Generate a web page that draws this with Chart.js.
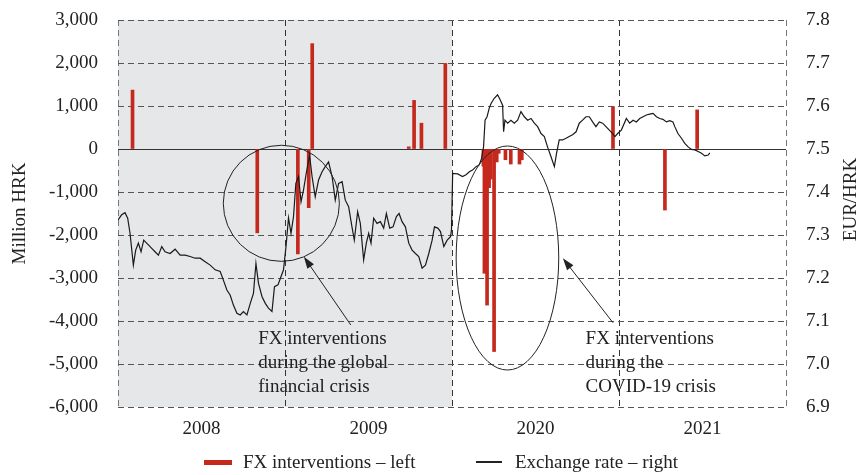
<!DOCTYPE html>
<html>
<head>
<meta charset="utf-8">
<script src="https://cdn.jsdelivr.net/npm/chart.js@4"></script>
<style>
  body { margin: 0; background: #fff; }
  #wrap { position: relative; width: 864px; height: 475px; }
  .legend { position: absolute; top: 451px; font: 19px "Liberation Serif", "Times New Roman", serif; color: #222; display: flex; align-items: center; white-space: nowrap; line-height: 22px; }
  .sw { display: inline-block; margin-right: 11px; }
</style>
</head>
<body>
<div id="wrap">
  <canvas id="chart" width="864" height="475"></canvas>
  <div class="legend" style="left:204px"><span class="sw" style="width:28px;height:5px;background:#c5281c"></span>FX interventions – left</div>
  <div class="legend" style="left:476px"><span class="sw" style="width:26px;height:1.5px;background:#222;margin-right:13px"></span>Exchange rate – right</div>
</div>
<script>
/* broken time axis: only these four years are shown, side by side */
const years = ['2008', '2009', '2020', '2021'];

// FX interventions, million HRK (decimal year, value)
const fxDates = [2008.087, 2008.834, 2009.077, 2009.142, 2009.163, 2009.741, 2009.773, 2009.817, 2009.960,
  2020.188, 2020.194, 2020.210, 2020.222, 2020.232, 2020.252, 2020.268, 2020.280, 2020.320, 2020.352, 2020.404, 2020.418, 2020.964,
  2021.275, 2021.468];
const fxValues = [1370, -1950, -2440, -1365, 2450, 50, 1130, 600, 1990,
  -400, -2890, -3630, -900, -700, -4710, -300, -100, -250, -350, -350, -250, 985,
  -1420, 910];

// EUR/HRK exchange rate
const rateDates = [
  2008.000, 2008.022, 2008.042, 2008.058, 2008.072, 2008.092, 2008.106, 2008.122, 2008.138, 2008.154,
  2008.182, 2008.202, 2008.222, 2008.242, 2008.262, 2008.282, 2008.312, 2008.342, 2008.372, 2008.402,
  2008.432, 2008.462, 2008.492, 2008.522, 2008.552, 2008.582, 2008.612, 2008.631, 2008.652, 2008.672,
  2008.691, 2008.712, 2008.732, 2008.751, 2008.772, 2008.792, 2008.811, 2008.826, 2008.841, 2008.862,
  2008.882, 2008.901, 2008.922, 2008.937, 2008.958, 2008.972, 2008.991,
  2009.006, 2009.021, 2009.036, 2009.051, 2009.065, 2009.081, 2009.096, 2009.111, 2009.127, 2009.147,
  2009.162, 2009.181, 2009.201, 2009.222, 2009.241, 2009.261, 2009.282, 2009.301, 2009.321, 2009.342,
  2009.361, 2009.381, 2009.401, 2009.415, 2009.435, 2009.451, 2009.471, 2009.487, 2009.501, 2009.515,
  2009.531, 2009.551, 2009.571, 2009.591, 2009.607, 2009.627, 2009.647, 2009.667, 2009.683, 2009.701,
  2009.721, 2009.741, 2009.761, 2009.781, 2009.801, 2009.821, 2009.841, 2009.861, 2009.881, 2009.895,
  2009.915, 2009.931, 2009.951, 2009.971, 2009.991, 2009.997,
  2020.004, 2020.034, 2020.063, 2020.084, 2020.104, 2020.123, 2020.144, 2020.163, 2020.177, 2020.189,
  2020.198, 2020.210, 2020.223, 2020.234, 2020.253, 2020.273, 2020.289, 2020.303, 2020.309, 2020.317,
  2020.333, 2020.353, 2020.373, 2020.393, 2020.413, 2020.433, 2020.453, 2020.473, 2020.493, 2020.513,
  2020.533, 2020.553, 2020.572, 2020.593, 2020.613, 2020.626, 2020.642, 2020.662, 2020.683, 2020.702,
  2020.722, 2020.743, 2020.762, 2020.782, 2020.802, 2020.822, 2020.842, 2020.862, 2020.882, 2020.902,
  2020.922, 2020.942, 2020.962, 2020.976, 2020.992,
  2021.014, 2021.044, 2021.064, 2021.084, 2021.104, 2021.124, 2021.144, 2021.164, 2021.184, 2021.204,
  2021.224, 2021.244, 2021.263, 2021.284, 2021.304, 2021.323, 2021.334, 2021.353, 2021.374, 2021.394,
  2021.414, 2021.434, 2021.454, 2021.474, 2021.494, 2021.514, 2021.534, 2021.544
];
const rateValues = [
  7.335, 7.347, 7.352, 7.339, 7.304, 7.230, 7.265, 7.281, 7.261, 7.288,
  7.277, 7.269, 7.261, 7.253, 7.273, 7.261, 7.257, 7.267, 7.253, 7.253,
  7.250, 7.246, 7.246, 7.238, 7.230, 7.219, 7.215, 7.195, 7.172, 7.160,
  7.137, 7.118, 7.114, 7.122, 7.114, 7.141, 7.164, 7.234, 7.188, 7.157,
  7.141, 7.130, 7.122, 7.180, 7.184, 7.199, 7.219,
  7.273, 7.340, 7.304, 7.343, 7.420, 7.436, 7.377, 7.405, 7.443, 7.486,
  7.436, 7.389, 7.428, 7.447, 7.459, 7.470, 7.436, 7.381, 7.420, 7.424,
  7.381, 7.366, 7.319, 7.288, 7.354, 7.327, 7.242, 7.281, 7.304, 7.281,
  7.339, 7.327, 7.331, 7.316, 7.350, 7.316, 7.319, 7.343, 7.350, 7.331,
  7.319, 7.281, 7.265, 7.257, 7.250, 7.223, 7.230, 7.257, 7.288, 7.319,
  7.316, 7.308, 7.273, 7.288, 7.296, 7.312,
  7.443, 7.442, 7.436, 7.440, 7.447, 7.451, 7.459, 7.463, 7.478, 7.505,
  7.567, 7.575, 7.595, 7.606, 7.618, 7.626, 7.614, 7.602, 7.540, 7.567,
  7.560, 7.567, 7.560, 7.567, 7.587, 7.575, 7.567, 7.571, 7.560, 7.552,
  7.536, 7.529, 7.505, 7.482, 7.459, 7.490, 7.521, 7.521, 7.525, 7.529,
  7.533, 7.540, 7.560, 7.567, 7.575, 7.575, 7.563, 7.552, 7.563, 7.560,
  7.552, 7.544, 7.536, 7.529, 7.536,
  7.544, 7.571, 7.560, 7.567, 7.563, 7.571, 7.575, 7.579, 7.581, 7.583,
  7.575, 7.571, 7.569, 7.563, 7.566, 7.563, 7.552, 7.536, 7.525, 7.513,
  7.505, 7.499, 7.498, 7.494, 7.490, 7.484, 7.486, 7.491
];

// decimal year -> position on the broken axis (0..4)
function toPos(d) {
  const yr = Math.floor(d);
  return years.indexOf(String(yr)) + (d - yr);
}

// callouts, in axis units (x: axis position, y: million HRK)
const rings = [
  { x: 0.978, y: -1263, rx: 1350, ry: 1350 },
  { x: 2.332, y: -2535, rx: 1193, ry: 2605 }
];
const arrows = [
  { from: [1.394, -4093], to: [1.113, -2505] },
  { from: [2.964, -4040], to: [2.664, -2542] }
];
const notes = [
  { x: 0.840, y: -4420, lines: ['FX interventions', 'during the global', 'financial crisis'] },
  { x: 2.800, y: -4420, lines: ['FX interventions', 'during the', 'COVID-19 crisis'] }
];

const serif = '"Liberation Serif", "Times New Roman", serif';
Chart.defaults.font.family = serif;
Chart.defaults.font.size = 19;
Chart.defaults.color = '#222';

const extras = {
  id: 'extras',
  beforeDraw(chart) {
    const { ctx, chartArea: a, scales: { x } } = chart;
    const x0 = x.getPixelForValue(0), x1 = x.getPixelForValue(2);
    ctx.save();
    ctx.fillStyle = '#e6e7e9';
    ctx.fillRect(x0, a.top, x1 - x0, a.bottom - a.top);
    ctx.restore();
  },
  beforeDatasetsDraw(chart) {
    const { ctx, chartArea: a, scales: { y } } = chart;
    const y0 = Math.round(y.getPixelForValue(0)) + 0.5;
    ctx.save();
    ctx.strokeStyle = '#333';
    ctx.lineWidth = 1.2;
    ctx.beginPath();
    ctx.moveTo(a.left, y0);
    ctx.lineTo(a.right, y0);
    ctx.stroke();
    ctx.restore();
  },
  afterDatasetsDraw(chart) {
    const { ctx, scales: { x, y } } = chart;
    const unit = y.getPixelForValue(0) - y.getPixelForValue(1);
    ctx.save();
    ctx.strokeStyle = '#222';
    ctx.fillStyle = '#222';
    ctx.lineWidth = 1;
    rings.forEach(r => {
      ctx.beginPath();
      ctx.ellipse(x.getPixelForValue(r.x), y.getPixelForValue(r.y), r.rx * unit, r.ry * unit, 0, 0, Math.PI * 2);
      ctx.stroke();
    });
    arrows.forEach(ar => {
      const fx = x.getPixelForValue(ar.from[0]), fy = y.getPixelForValue(ar.from[1]);
      const tx = x.getPixelForValue(ar.to[0]), ty = y.getPixelForValue(ar.to[1]);
      const ang = Math.atan2(ty - fy, tx - fx);
      ctx.beginPath();
      ctx.moveTo(fx, fy);
      ctx.lineTo(tx - 8 * Math.cos(ang), ty - 8 * Math.sin(ang));
      ctx.stroke();
      ctx.beginPath();
      ctx.moveTo(tx, ty);
      ctx.lineTo(tx - 12 * Math.cos(ang) + 4 * Math.sin(ang), ty - 12 * Math.sin(ang) - 4 * Math.cos(ang));
      ctx.lineTo(tx - 12 * Math.cos(ang) - 4 * Math.sin(ang), ty - 12 * Math.sin(ang) + 4 * Math.cos(ang));
      ctx.closePath();
      ctx.fill();
    });
    ctx.font = '19px ' + serif;
    ctx.textAlign = 'left';
    ctx.textBaseline = 'middle';
    notes.forEach(n => {
      const nx = x.getPixelForValue(n.x), ny = y.getPixelForValue(n.y);
      n.lines.forEach((t, i) => ctx.fillText(t, nx, ny + i * 24));
    });
    ctx.restore();
  },
  afterDraw(chart) {
    // right axis title reads bottom-to-top like the left one
    const { ctx, chartArea: a } = chart;
    ctx.save();
    ctx.translate(851, (a.top + a.bottom) / 2 - 14);
    ctx.rotate(-Math.PI / 2);
    ctx.font = '19px ' + serif;
    ctx.fillStyle = '#222';
    ctx.textAlign = 'center';
    ctx.textBaseline = 'middle';
    ctx.fillText('EUR/HRK', 0, 0);
    ctx.restore();
  }
};

// fixed axis sizes so the plot sits where it does in the original
function fixVertical(width) {
  return s => { s.width = width; s.paddingTop = 0; s.paddingBottom = 0; };
}

const ctx = document.getElementById('chart').getContext('2d');
new Chart(ctx, {
  type: 'bar',
  data: {
    datasets: [
      {
        type: 'line',
        label: 'Exchange rate – right',
        data: rateDates.map((d, i) => ({ x: toPos(d), y: rateValues[i] })),
        yAxisID: 'y1',
        borderColor: '#1a1a1a',
        borderWidth: 1.2,
        pointRadius: 0,
        tension: 0,
        order: 0
      },
      {
        label: 'FX interventions – left',
        data: fxDates.map((d, i) => ({ x: toPos(d), y: fxValues[i] })),
        yAxisID: 'y',
        backgroundColor: '#c5281c',
        borderWidth: 0,
        barThickness: 3,
        order: 1
      }
    ]
  },
  options: {
    responsive: false,
    animation: false,
    layout: { padding: { top: 20, left: 0, right: 0, bottom: 0 } },
    plugins: { legend: { display: false }, tooltip: { enabled: false } },
    scales: {
      x: {
        type: 'linear',
        min: 0,
        max: 4,
        offset: false,
        afterBuildTicks: s => { s.ticks = [0, 0.5, 1, 1.5, 2, 2.5, 3, 3.5, 4].map(v => ({ value: v })); },
        afterFit: s => { s.height = 68; },
        ticks: {
          padding: 11,
          maxRotation: 0,
          autoSkip: false,
          callback: v => (v % 1 === 0.5 ? years[Math.floor(v)] : '')
        },
        grid: {
          offset: false,
          drawTicks: false,
          color: c => (c.tick && c.tick.value % 1 === 0 ? (c.tick.value === 0 || c.tick.value === 4 ? '#777' : '#333') : 'rgba(0,0,0,0)')
        },
        border: { display: false, dash: [6, 4] }
      },
      y: {
        position: 'left',
        min: -6000,
        max: 3000,
        afterFit: fixVertical(118),
        ticks: {
          stepSize: 1000,
          padding: 20,
          callback: v => v.toLocaleString('en-US')
        },
        grid: { drawTicks: false, color: '#555' },
        border: { display: false, dash: [6, 4] },
        title: { display: true, text: 'Million HRK', padding: { top: 9, bottom: 0 } }
      },
      y1: {
        position: 'right',
        min: 6.9,
        max: 7.8,
        afterFit: fixVertical(78),
        ticks: {
          stepSize: 0.1,
          padding: 20,
          callback: v => v.toFixed(1)
        },
        grid: { drawOnChartArea: false, drawTicks: false },
        border: { display: false }
      }
    }
  },
  plugins: [extras]
});
</script>
</body>
</html>
